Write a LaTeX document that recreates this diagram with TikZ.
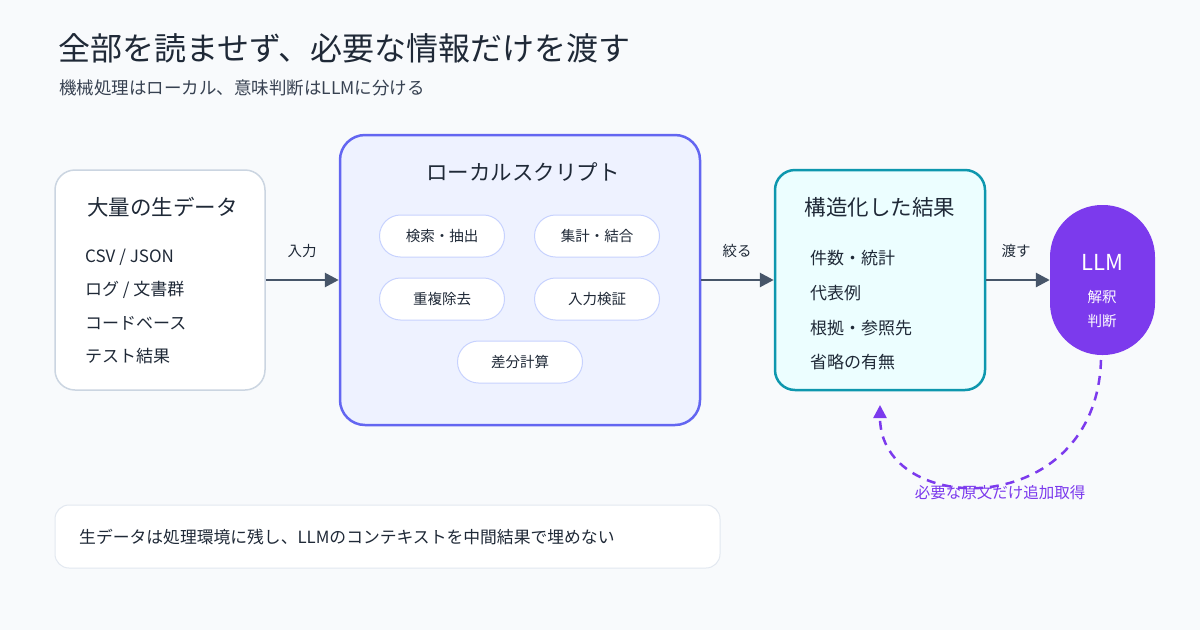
\documentclass[tikz,border=0pt]{standalone}
\usepackage{fontspec}
\setmainfont{Noto Sans CJK JP}
\usetikzlibrary{arrows.meta}
\definecolor{bg}{HTML}{F8FAFC}
\definecolor{ink}{HTML}{1F2937}
\definecolor{sub}{HTML}{374151}
\definecolor{grayline}{HTML}{CBD5E1}
\definecolor{arrowc}{HTML}{475569}
\definecolor{indigo}{HTML}{6366F1}
\definecolor{indigofill}{HTML}{EEF2FF}
\definecolor{pillline}{HTML}{C7D2FE}
\definecolor{cyanline}{HTML}{0E97AE}
\definecolor{cyanfill}{HTML}{ECFEFF}
\definecolor{violet}{HTML}{7C3AED}
\definecolor{noteline}{HTML}{E2E8F0}
\begin{document}
\begin{tikzpicture}[x=1pt,y=-1pt,
  txt/.style={inner sep=0pt,text=ink},
  boxtitle/.style={txt,font=\fontsize{21.5}{24}\selectfont},
  item/.style={txt,anchor=west,font=\fontsize{17}{20}\selectfont},
  pill/.style={draw=pillline,line width=1pt,fill=white,rounded corners=21pt,minimum width=125pt,minimum height=42pt,inner sep=0pt,text=ink,font=\fontsize{14.5}{18}\selectfont},
  flow/.style={draw=arrowc,line width=2.8pt,-{Triangle[length=14pt,width=14pt]}},
  flowlabel/.style={txt,font=\fontsize{14.5}{18}\selectfont}]
\fill[bg] (0,0) rectangle (1200,630);
\useasboundingbox (0,0) rectangle (1200,630);
% titles
\node[txt,anchor=west,font=\fontsize{32}{36}\selectfont] (title) at (58,48) {全部を読ませず、必要な情報だけを渡す};
\node[txt,anchor=west,text=sub,font=\fontsize{17.5}{20}\selectfont] (subtitle) at (59,88) {機械処理はローカル、意味判断はLLMに分ける};
% left box
\node[draw=grayline,line width=1.5pt,fill=white,rounded corners=20pt,minimum width=210pt,minimum height=220pt,inner sep=0pt] (raw) at (160,280) {};
\node[boxtitle,anchor=west] (rawt) at (87,207) {大量の生データ};
\node[item] (r1) at (85,257) {CSV / JSON};
\node[item] (r2) at (85,290) {ログ / 文書群};
\node[item] (r3) at (85,323) {コードベース};
\node[item] (r4) at (85,356) {テスト結果};
% middle box
\node[draw=indigo,line width=2.5pt,fill=indigofill,rounded corners=25pt,minimum width=360pt,minimum height=290pt,inner sep=0pt] (local) at (520,280) {};
\node[boxtitle] (localt) at (523,172) {ローカルスクリプト};
\node[pill] (p1) at (442,236) {検索・抽出};
\node[pill] (p2) at (597,236) {集計・結合};
\node[pill] (p3) at (442,299) {重複除去};
\node[pill] (p4) at (597,299) {入力検証};
\node[pill] (p5) at (520,362) {差分計算};
% right box
\node[draw=cyanline,line width=2.5pt,fill=cyanfill,rounded corners=20pt,minimum width=210pt,minimum height=220pt,inner sep=0pt] (res) at (880,280) {};
\node[boxtitle] (rest) at (880,207) {構造化した結果};
\node[item] (s1) at (810,258) {件数・統計};
\node[item] (s2) at (810,293) {代表例};
\node[item] (s3) at (810,328) {根拠・参照先};
\node[item] (s4) at (810,362) {省略の有無};
% LLM
\node[fill=violet,rounded corners=52pt,minimum width=105pt,minimum height=150pt,inner sep=0pt] (llm) at (1102.5,280) {};
\node[txt,text=white,font=\fontsize{22}{24}\selectfont] (llmt) at (1102,262) {LLM};
\node[txt,text=white,font=\fontsize{14.5}{17}\selectfont] (llm1) at (1102,297) {解釈};
\node[txt,text=white,font=\fontsize{14.5}{17}\selectfont] (llm2) at (1102,321) {判断};
% arrows
\draw[flow] (raw.east) -- (local.west);
\node[flowlabel] (l1) at (302,251) {入力};
\draw[flow] (local.east) -- (res.west);
\node[flowlabel] (l2) at (737,251) {絞る};
\draw[flow] (res.east) -- (llm.west);
\node[flowlabel] (l3) at (1016,251) {渡す};
% feedback
\coordinate (fbs) at (1101,360);
\coordinate (fbe) at (880,405);
\draw[violet,line width=2.5pt,dash pattern=on 9pt off 7pt,-{Triangle[length=13pt,width=13pt]}]
  (fbs) .. controls (1096,522) and (880,518) .. (fbe);
\node[txt,text=violet,font=\fontsize{15.5}{18}\selectfont] (fbl) at (1000,493) {必要な原文だけ追加取得};
% note
\node[draw=noteline,line width=1pt,fill=white,rounded corners=14pt,minimum width=665pt,minimum height=63pt,inner sep=0pt] (note) at (387.5,536.5) {};
\node[txt,anchor=west,font=\fontsize{16.8}{20}\selectfont] (notet) at (79,537) {生データは処理環境に残し、LLMのコンテキストを中間結果で埋めない};
\end{tikzpicture}
\end{document}
